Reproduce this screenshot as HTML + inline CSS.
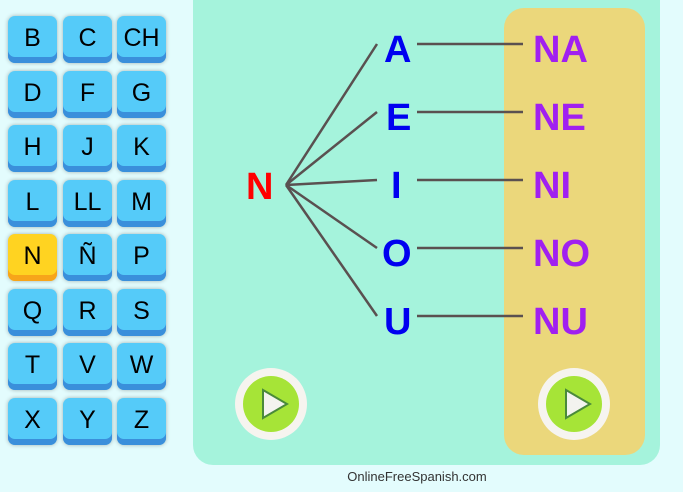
<!DOCTYPE html>
<html><head><meta charset="utf-8"><style>
*{margin:0;padding:0;box-sizing:border-box}
body{width:683px;height:492px;background:#e3fcfd;position:relative;overflow:hidden;font-family:"Liberation Sans",sans-serif}
.b{position:absolute;width:49px;height:47px;border-radius:7px;background:#55cbf9;font-size:25px;text-align:center;line-height:45px;color:#000;box-shadow:inset 0 -6px 0 #3a8fdb,0 0 4px rgba(0,0,0,.3)}
.b.y{background:#ffd321;box-shadow:inset 0 -6px 0 #f7a51a,0 0 4px rgba(0,0,0,.3)}
.panel{position:absolute;left:193px;top:-20px;width:467px;height:485px;background:#a5f3dc;border-radius:20px}
.yel{position:absolute;left:504px;top:8px;width:141px;height:447px;background:#ebd77b;border-radius:20px}
.t{position:absolute;font-weight:bold;font-size:38px;line-height:40px}
.foot{position:absolute;left:0;width:834px;top:469px;text-align:center;font-size:13px;color:#333}
</style></head><body>
<div class="panel"></div>
<div class="yel"></div>
<div class="b" style="left:8px;top:16px">B</div><div class="b" style="left:63px;top:16px">C</div><div class="b" style="left:117px;top:16px">CH</div>
<div class="b" style="left:8px;top:71px">D</div><div class="b" style="left:63px;top:71px">F</div><div class="b" style="left:117px;top:71px">G</div>
<div class="b" style="left:8px;top:125px">H</div><div class="b" style="left:63px;top:125px">J</div><div class="b" style="left:117px;top:125px">K</div>
<div class="b" style="left:8px;top:180px">L</div><div class="b" style="left:63px;top:180px">LL</div><div class="b" style="left:117px;top:180px">M</div>
<div class="b y" style="left:8px;top:234px">N</div><div class="b" style="left:63px;top:234px">Ñ</div><div class="b" style="left:117px;top:234px">P</div>
<div class="b" style="left:8px;top:289px">Q</div><div class="b" style="left:63px;top:289px">R</div><div class="b" style="left:117px;top:289px">S</div>
<div class="b" style="left:8px;top:343px">T</div><div class="b" style="left:63px;top:343px">V</div><div class="b" style="left:117px;top:343px">W</div>
<div class="b" style="left:8px;top:398px">X</div><div class="b" style="left:63px;top:398px">Y</div><div class="b" style="left:117px;top:398px">Z</div>
<svg style="position:absolute;left:0;top:0" width="683" height="492">
<g stroke="#5a5050" stroke-width="2.5" fill="none">
<line x1="286" y1="185" x2="377" y2="44"/><line x1="286" y1="185" x2="377" y2="112"/><line x1="286" y1="185" x2="377" y2="180"/><line x1="286" y1="185" x2="377" y2="248"/><line x1="286" y1="185" x2="377" y2="316"/>
<line x1="417" y1="44" x2="523" y2="44"/><line x1="417" y1="112" x2="523" y2="112"/><line x1="417" y1="180" x2="523" y2="180"/><line x1="417" y1="248" x2="523" y2="248"/><line x1="417" y1="316" x2="523" y2="316"/>
</g>
<g>
<circle cx="271" cy="404" r="36" fill="#f6f4ef"/><circle cx="271" cy="404" r="28" fill="#a6e437"/>
<polygon points="263,390 263,418 287,404" fill="#f3f3ef" stroke="#4a8a3a" stroke-width="2"/>
<circle cx="574" cy="404" r="36" fill="#f6f4ef"/><circle cx="574" cy="404" r="28" fill="#a6e437"/>
<polygon points="566,390 566,418 590,404" fill="#f3f3ef" stroke="#4a8a3a" stroke-width="2"/>
</g>
</svg>
<div class="t" style="left:246px;top:167px;color:#f00">N</div>
<div class="t" style="left:384px;top:30px;color:#0000f0">A</div>
<div class="t" style="left:386px;top:98px;color:#0000f0">E</div>
<div class="t" style="left:391px;top:166px;color:#0000f0">I</div>
<div class="t" style="left:382px;top:234px;color:#0000f0">O</div>
<div class="t" style="left:384px;top:302px;color:#0000f0">U</div>
<div class="t" style="left:533px;top:30px;color:#a020f0">NA</div>
<div class="t" style="left:533px;top:98px;color:#a020f0">NE</div>
<div class="t" style="left:533px;top:166px;color:#a020f0">NI</div>
<div class="t" style="left:533px;top:234px;color:#a020f0">NO</div>
<div class="t" style="left:533px;top:302px;color:#a020f0">NU</div>
<div class="foot">OnlineFreeSpanish.com</div>
</body></html>
